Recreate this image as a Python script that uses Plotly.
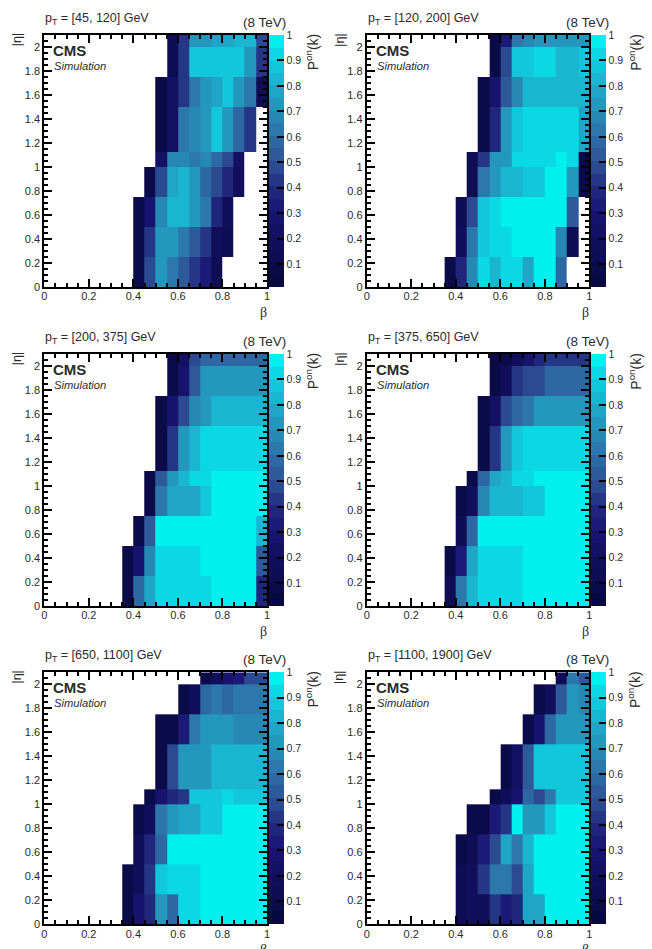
import plotly.graph_objects as go

_ = None
BETA_EDGES = [0.35, 0.40, 0.45, 0.50, 0.55, 0.60, 0.65, 0.70, 0.75, 0.80, 0.85, 0.90, 0.95, 1.00]
ETA_EDGES = [0, 0.25, 0.5, 0.75, 1.0, 1.125, 1.5, 1.75, 2.0, 2.1]
TICKS_X = [0, 0.2, 0.4, 0.6, 0.8, 1]
TICK_TEXT_X = ["0", "0.2", "0.4", "0.6", "0.8", "1"]
TICKS_Y = [0, 0.2, 0.4, 0.6, 0.8, 1, 1.2, 1.4, 1.6, 1.8, 2]
TICK_TEXT_Y = ["0", "0.2", "0.4", "0.6", "0.8", "1", "1.2", "1.4", "1.6", "1.8", "2"]
TICKS_CB = [0.1, 0.2, 0.3, 0.4, 0.5, 0.6, 0.7, 0.8, 0.9, 1]
TICK_TEXT_CB = ["0.1", "0.2", "0.3", "0.4", "0.5", "0.6", "0.7", "0.8", "0.9", "1"]
TITLES = ["[45, 120]", "[120, 200]", "[200, 375]", "[375, 650]", "[650, 1100]", "[1100, 1900]"]

PT_45_120 = [
    [_, .10, .50, .75, .65, .55, .45, .35, .15, _, _, _, _],
    [_, .10, .45, .72, .75, .65, .55, .42, .20, .15, _, _, _],
    [_, .10, .30, .70, .85, .85, .72, .62, .40, .20, _, _, _],
    [_, _, .10, .50, .80, .82, .75, .60, .50, .40, .20, _, _],
    [_, _, _, .25, .70, .70, .65, .70, .60, .50, .25, _, _],
    [_, _, _, .10, .25, .65, .70, .75, .88, .75, .60, .42, _],
    [_, _, _, .10, .25, .45, .65, .72, .78, .86, .75, .65, .15],
    [_, _, _, _, .12, .45, .86, .86, .86, .86, .86, .72, .42],
    [_, _, _, _, .12, .42, .72, .75, .78, .78, .83, .83, .50],
]
PT_120_200 = [
    [.08, .40, .70, .95, .85, .92, .92, .80, .99, .99, .60, _, _],
    [_, .20, .65, .88, .93, .93, .98, .98, .98, .98, .68, .15, _],
    [_, .15, .50, .90, .95, .99, .99, .99, .99, .99, .99, .55, _],
    [_, _, .12, .65, .75, .85, .85, .88, .88, .97, .97, .75, .10],
    [_, _, .12, .45, .72, .72, .92, .92, .92, .92, .99, .95, .10],
    [_, _, _, .10, .40, .72, .88, .95, .95, .95, .95, .95, .78],
    [_, _, _, .10, .30, .55, .70, .82, .82, .82, .82, .82, .82],
    [_, _, _, _, .10, .50, .88, .88, .95, .95, .85, .85, .88],
    [_, _, _, _, .10, .35, .65, .70, .75, .75, .75, .75, .75],
]
PT_200_375 = [
    [.08, .60, .80, .95, .95, .95, .95, .95, .99, .99, .99, .99, .40],
    [.08, .30, .70, .93, .93, .93, .93, .99, .99, .99, .99, .99, .55],
    [_, .10, .55, .97, .99, .99, .99, .99, .99, .99, .99, .99, .85],
    [_, _, .10, .65, .80, .80, .80, .90, .99, .99, .99, .99, .99],
    [_, _, .10, .55, .75, .85, .92, .92, .99, .99, .99, .99, .99],
    [_, _, _, .08, .45, .72, .85, .95, .95, .95, .95, .95, .95],
    [_, _, _, .10, .30, .50, .70, .72, .85, .85, .85, .85, .85],
    [_, _, _, _, .10, .30, .55, .72, .72, .72, .72, .72, .72],
    [_, _, _, _, .10, .25, .50, .58, .58, .58, .58, .58, .58],
]
PT_375_650 = [
    [.12, .62, .85, .95, .95, .95, .95, .99, .99, .99, .99, .99, .99],
    [.08, .35, .80, .95, .95, .95, .95, .99, .99, .99, .99, .99, .99],
    [_, .15, .60, .97, .99, .99, .99, .99, .99, .99, .99, .99, .99],
    [_, .08, .20, .70, .82, .85, .85, .88, .88, .98, .98, .98, .98],
    [_, _, .10, .60, .78, .85, .93, .93, .99, .99, .99, .99, .99],
    [_, _, _, .10, .42, .72, .88, .92, .92, .92, .92, .92, .92],
    [_, _, _, .08, .25, .50, .60, .65, .75, .75, .75, .75, .75],
    [_, _, _, _, .08, .18, .42, .50, .50, .60, .60, .60, .60],
    [_, _, _, _, .07, .10, .18, .30, .38, .42, .42, .42, .42],
]
PT_650_1100 = [
    [.10, .30, .40, .75, .60, .95, .95, .99, .99, .99, .99, .99, .99],
    [.10, .20, .45, .88, .95, .95, .95, .99, .99, .99, .99, .99, .99],
    [_, .20, .40, .60, .99, .99, .99, .99, .99, .99, .99, .99, .99],
    [_, .10, .20, .65, .72, .80, .80, .88, .88, .99, .99, .99, .99],
    [_, _, .10, .30, .40, .42, .90, .90, .90, .95, .88, .88, .88],
    [_, _, _, .10, .50, .72, .75, .75, .85, .85, .85, .85, .85],
    [_, _, _, .08, .10, .35, .65, .72, .72, .75, .68, .68, .68],
    [_, _, _, _, _, .10, .20, .58, .62, .58, .62, .62, .62],
    [_, _, _, _, _, _, _, .10, .20, .30, .35, .50, .50],
]
PT_1100_1900 = [
    [_, .15, .20, .20, .45, .35, .40, .78, .78, .99, .99, .99, .99],
    [_, .12, .20, .45, .65, .65, .50, .80, .99, .99, .99, .99, .99],
    [_, .10, .15, .35, .50, .80, .65, .85, .99, .99, .99, .99, .99],
    [_, _, .10, .10, .35, .45, .97, .75, .75, .88, .99, .99, .99],
    [_, _, _, _, .10, .20, .30, .60, .50, .65, .90, .90, .90],
    [_, _, _, _, _, .10, .25, .55, .88, .88, .88, .88, .88],
    [_, _, _, _, _, _, _, .10, .30, .60, .75, .75, .75],
    [_, _, _, _, _, _, _, _, .10, .20, .55, .72, .70],
    [_, _, _, _, _, _, _, _, _, _, .15, .62, .55],
]
PANELS = [PT_45_120, PT_120_200, PT_200_375, PT_375_650, PT_650_1100, PT_1100_1900]

W, H = 652, 949
LEFTS = [44.3, 366.7]
PW = 222.7
TOPS = [35.0, 354.0, 672.3]
PH = 252.0
FONT = "Liberation Sans"
INK = "#2a2a2a"
TICK_INK = "#000"

ANCHORS = [(0.0, (8, 8, 60)), (0.3, (24, 20, 115)), (0.4, (36, 44, 128)), (0.5, (46, 84, 152)),
           (0.6, (46, 110, 168)), (0.7, (38, 144, 184)), (0.8, (28, 172, 204)), (0.9, (14, 208, 224)), (1.0, (0, 240, 240))]

def anchor_color(t):
    for (a, ca), (b, cb) in zip(ANCHORS, ANCHORS[1:]):
        if t <= b:
            f = (t - a) / (b - a)
            return "rgb(%d,%d,%d)" % tuple(round(p + f * (q - p)) for p, q in zip(ca, cb))
    return "rgb(0,240,240)"

STEPS = 20
scale = []
for i in range(STEPS):
    c = anchor_color((i + 0.5) / STEPS if i < STEPS - 1 else 1.0)
    scale += [[i / STEPS, c], [(i + 1) / STEPS, c]]

fig = go.Figure()
ann = []

def note(px, py, text, size, angle=0, anchor="left", family=FONT):
    ann.append(dict(x=px / W, y=1 - py / H, xref="paper", yref="paper", text=text, showarrow=False,
                    xanchor=anchor, yanchor="middle", textangle=angle, borderpad=0,
                    font=dict(family=family, size=size, color=INK)))

for k, z in enumerate(PANELS):
    col, row = k % 2, k // 2
    l, t = LEFTS[col], TOPS[row]
    n = str(k + 1) if k else ""
    xa, ya = "x" + n, "y" + n
    dx = [l / W, (l + PW) / W]
    dy = [1 - (t + PH) / H, 1 - t / H]
    fig.add_trace(go.Heatmap(
        x=BETA_EDGES, y=ETA_EDGES, z=z, xaxis=xa, yaxis=ya, zmin=0.01, zmax=1, colorscale=scale,
        hoverongaps=False,
        colorbar=dict(x=(l + PW + 2) / W, xanchor="left", y=dy[0], yanchor="bottom", len=PH / H, lenmode="fraction",
                      thickness=14.5, xpad=0, ypad=0, outlinewidth=0, tickmode="array", tickvals=TICKS_CB,
                      ticktext=TICK_TEXT_CB, ticks="inside", ticklen=7, tickwidth=1.6, tickcolor=TICK_INK,
                      tickfont=dict(family=FONT, size=10.5, color=INK)),
    ))
    common = dict(showgrid=False, zeroline=False, showline=True, linecolor="#000", linewidth=2, mirror="allticks",
                  ticks="inside", ticklen=8, tickwidth=1.8, tickcolor=TICK_INK, tickmode="array",
                  tickfont=dict(family=FONT, size=11, color=INK),
                  minor=dict(dtick=0.05, tick0=0, ticks="inside", ticklen=4, tickwidth=1.6, tickcolor=TICK_INK))
    fig.update_layout({
        "xaxis" + n: dict(domain=dx, range=[0, 1], anchor=ya, tickvals=TICKS_X, ticktext=TICK_TEXT_X,
                          ticklabelstandoff=-2, **common),
        "yaxis" + n: dict(domain=dy, range=[0, 2.1], anchor=xa, tickvals=TICKS_Y, ticktext=TICK_TEXT_Y, **common),
    })
    note(l, t - 16, "p<sub>T</sub> = " + TITLES[k] + " GeV", 12.5)
    note(l + 243, t - 13, "(8 TeV)", 13.5, anchor="right")
    note(l + 8, t + 15, "<b>CMS</b>", 15)
    note(l + 9, t + 31, "<i>Simulation</i>", 11.2)
    note(l - 27, t + 5, "|η|", 12.5, angle=-90, anchor="center")
    note(l + 219, t + 277, "β", 14, anchor="center", family="Liberation Serif")
    note(l + 268, t + 17, "P<sup>on</sup>(k)", 14, angle=-90, anchor="center")

fig.update_layout(width=W, height=H, margin=dict(l=0, r=0, t=0, b=0, autoexpand=False),
                  paper_bgcolor="white", plot_bgcolor="white", annotations=ann)
fig.write_html("out.html", post_script="document.body.style.margin='0';", config={"displayModeBar": False})
